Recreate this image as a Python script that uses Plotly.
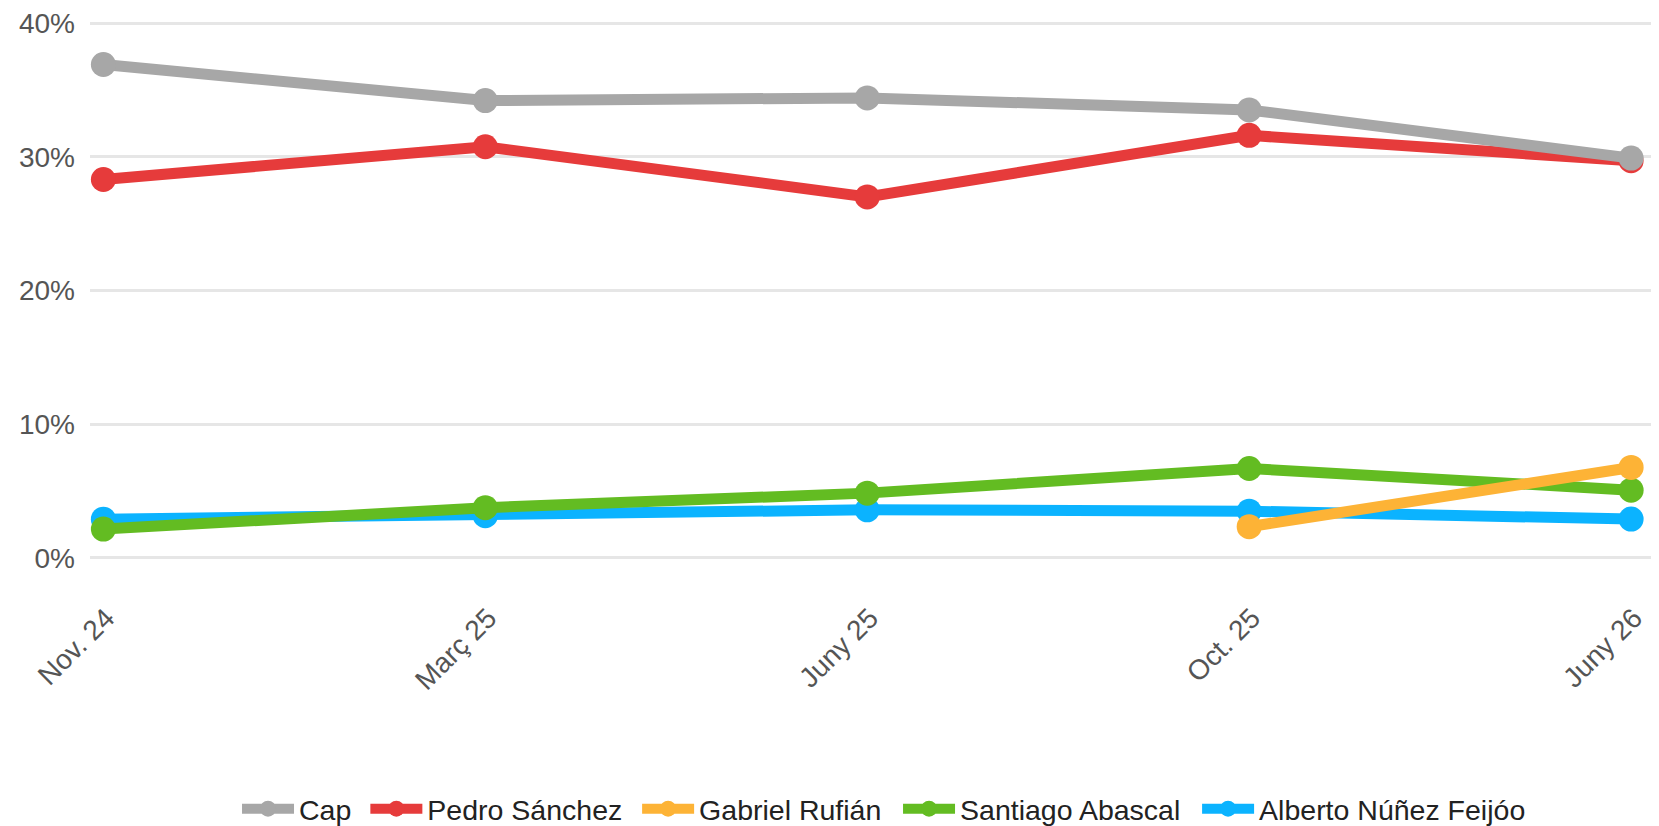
import plotly.graph_objects as go

categories = ["Nov. 24", "Març 25", "Juny 25", "Oct. 25", "Juny 26"]
cap = [36.9, 34.2, 34.4, 33.5, 29.9]
pedro_sanchez = [28.3, 30.75, 27.0, 31.6, 29.7]
gabriel_rufian = [None, None, None, 2.34, 6.77]
santiago_abascal = [2.16, 3.76, 4.85, 6.69, 5.07]
alberto_feijoo = [2.9, 3.16, 3.6, 3.5, 2.91]
y_ticks = [0, 10, 20, 30, 40]
y_tick_labels = ["0%", "10%", "20%", "30%", "40%"]

series = [
    ("Cap", cap, "#a7a7a7"),
    ("Pedro Sánchez", pedro_sanchez, "#e63b3b"),
    ("Gabriel Rufián", gabriel_rufian, "#fdb336"),
    ("Santiago Abascal", santiago_abascal, "#63bc22"),
    ("Alberto Núñez Feijóo", alberto_feijoo, "#0bb3ff"),
]
# one legend box per series, laid out left to right (paper x of each box)
legend_x = [0.0937, 0.1755, 0.3487, 0.5150, 0.7056]

FONT = "Liberation Sans, Arial, sans-serif"

fig = go.Figure()
# earlier series drawn on top -> add in reverse order
for i in reversed(range(len(series))):
    name, vals, color = series[i]
    fig.add_trace(go.Scatter(
        x=list(range(len(categories))), y=vals, name=name,
        mode="lines+markers",
        line=dict(color=color, width=11),
        marker=dict(color=color, size=25),
        cliponaxis=False,
        connectgaps=False,
        legend="legend" if i == 0 else f"legend{i + 1}",
    ))

legend_style = dict(
    orientation="h", xanchor="left", y=-0.4623, yanchor="middle",
    font=dict(family=FONT, size=28.5, color="#222222"),
    itemsizing="trace", itemwidth=52, bgcolor="rgba(0,0,0,0)",
)
legends = {}
for i, lx in enumerate(legend_x):
    key = "legend" if i == 0 else f"legend{i + 1}"
    legends[key] = dict(legend_style, x=lx)

# page body has an 8px margin, so the figure is sized/offset to compensate
fig.update_layout(
    width=1651, height=818,
    margin=dict(l=82, r=0, t=13.29, b=265.7, autoexpand=False),
    paper_bgcolor="white", plot_bgcolor="white",
    font=dict(family=FONT, size=28, color="#555555"),
    showlegend=True,
    xaxis=dict(
        range=[-0.035, 4.073],
        tickmode="array", tickvals=list(range(len(categories))), ticktext=categories,
        tickangle=-45, showgrid=False, zeroline=False, showline=False,
        ticklabelstandoff=35, ticklabelshift=3, ticklabeloverflow="allow",
        tickfont=dict(family=FONT, size=28, color="#555555"),
    ),
    yaxis=dict(
        range=[-0.15, 40.15],
        tickmode="array", tickvals=y_ticks, ticktext=y_tick_labels,
        showgrid=True, gridcolor="#e6e6e6", gridwidth=2.5,
        zeroline=True, zerolinecolor="#e6e6e6", zerolinewidth=2.5,
        showline=False, ticklabelstandoff=14, ticklabeloverflow="allow",
        tickfont=dict(family=FONT, size=28, color="#555555"),
    ),
    **legends,
)

fig.write_html("out.html")
